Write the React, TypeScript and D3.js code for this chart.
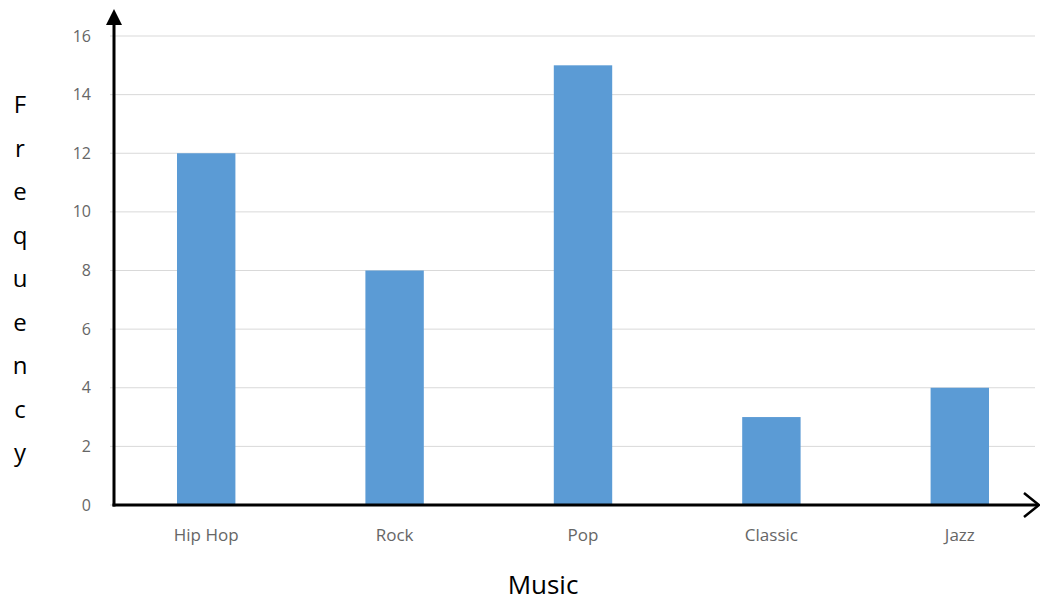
import React from "react";
import * as d3 from "d3";

const categories = ["Hip Hop", "Rock", "Pop", "Classic", "Jazz"];
const frequency = [12, 8, 15, 3, 4];
const yTicks = [0, 2, 4, 6, 8, 10, 12, 14, 16];
const yTitle = "Frequency";
const xTitle = "Music";

export default function App() {
  const W = 1040, H = 601;
  const x = d3.scaleBand<string>().domain(categories).range([112, 1054]).paddingInner(0.69).paddingOuter(0.345);
  const y = d3.scaleLinear().domain([0, 16]).range([505, 36]);
  const axisX = 114;
  const font = "'Open Sans', 'Liberation Sans', sans-serif";
  return (
    <svg width={W} height={H} style={{ position: "absolute", left: 0, top: 0, background: "#fff" }}>
      {yTicks.map((t) => (
        <g key={t}>
          <line x1={110} x2={1035} y1={y(t)} y2={y(t)} stroke="#d9d9d9" strokeWidth={1} />
          <text x={91} y={y(t)} dy="0.35em" textAnchor="end" fontFamily={font} fontSize={16} fill="#666">{t}</text>
        </g>
      ))}
      {categories.map((c, i) => (
        <rect key={c} x={x(c)} width={x.bandwidth()} y={y(frequency[i])} height={y(0) - y(frequency[i])} fill="#5b9bd5" />
      ))}
      {categories.map((c) => (
        <text key={c} x={(x(c) as number) + x.bandwidth() / 2} y={535} dy="0.35em" textAnchor="middle" fontFamily={font} fontSize={17} fill="#666">{c}</text>
      ))}
      {/* Y axis with filled arrow */}
      <line x1={axisX} x2={axisX} y1={y(0) + 1.5} y2={22} stroke="#000" strokeWidth={3} />
      <polygon points={`${axisX},9 ${axisX - 8},25 ${axisX + 8},25`} fill="#000" />
      {/* X axis with open arrow */}
      <line x1={axisX - 1.5} x2={1038} y1={y(0)} y2={y(0)} stroke="#000" strokeWidth={3} />
      <polyline points={`1024,493 1039,${y(0)} 1024,517`} fill="none" stroke="#000" strokeWidth={2.5} />
      {yTitle.split("").map((ch, i) => (
        <text key={i} x={20} y={105 + i * 43.5} dy="0.35em" textAnchor="middle" fontFamily={font} fontSize={24} fill="#000">{ch}</text>
      ))}
      <text x={543} y={585} dy="0.35em" textAnchor="middle" fontFamily={font} fontSize={26} fill="#000">{xTitle}</text>
    </svg>
  );
}
